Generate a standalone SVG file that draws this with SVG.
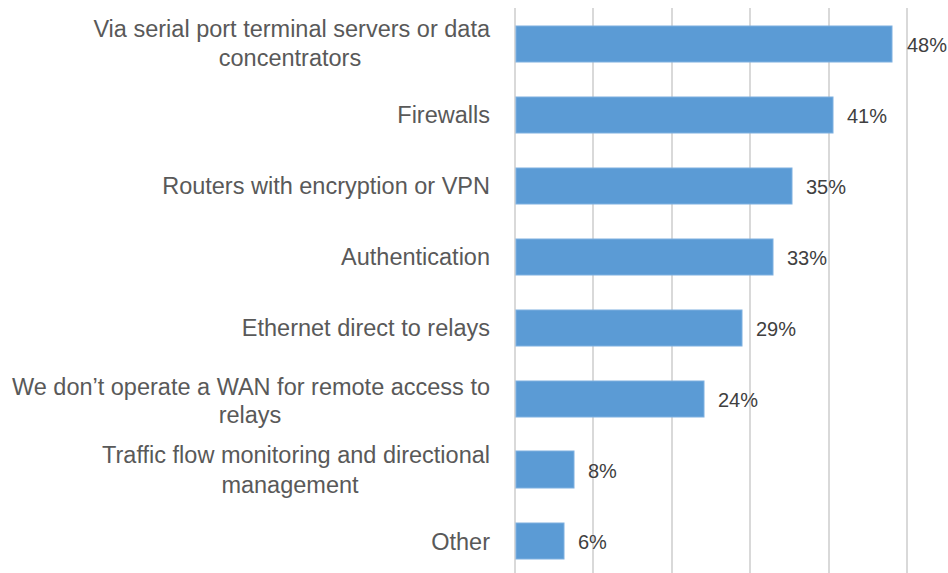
<svg xmlns="http://www.w3.org/2000/svg" width="948" height="573" viewBox="0 0 948 573">
<style>
.grid{stroke:#d9d9d9;stroke-width:2}
.bar{fill:#5b9bd5;stroke:#7eb0e0;stroke-width:1}
.cat{font-family:"Liberation Sans",Arial,sans-serif;font-size:23.5px;fill:#595959;text-anchor:end}
.cat2{font-family:"Liberation Sans",Arial,sans-serif;font-size:23.5px;fill:#595959;text-anchor:middle}
.val{font-family:"Liberation Sans",Arial,sans-serif;font-size:20px;fill:#404040}
</style>
<rect width="948" height="573" fill="#fff"/>
<g id="gridlines">
<line class="grid" x1="515" y1="8" x2="515" y2="573"/>
<line class="grid" x1="593" y1="8" x2="593" y2="573"/>
<line class="grid" x1="672" y1="8" x2="672" y2="573"/>
<line class="grid" x1="750" y1="8" x2="750" y2="573"/>
<line class="grid" x1="829" y1="8" x2="829" y2="573"/>
<line class="grid" x1="907" y1="8" x2="907" y2="573"/>
</g>
<g id="bar1">
<rect class="bar" x="516" y="26" width="376" height="36"/>
<text class="cat" x="490" y="37">Via serial port terminal servers or data</text>
<text class="cat2" x="290" y="66">concentrators</text>
<text class="val" x="907" y="52">48%</text>
</g>
<g id="bar2">
<rect class="bar" x="516" y="97" width="317" height="36"/>
<text class="cat" x="490" y="123">Firewalls</text>
<text class="val" x="847" y="123">41%</text>
</g>
<g id="bar3">
<rect class="bar" x="516" y="168" width="276" height="36"/>
<text class="cat" x="490" y="194">Routers with encryption or VPN</text>
<text class="val" x="806" y="194">35%</text>
</g>
<g id="bar4">
<rect class="bar" x="516" y="239" width="257" height="36"/>
<text class="cat" x="490" y="265">Authentication</text>
<text class="val" x="787" y="265">33%</text>
</g>
<g id="bar5">
<rect class="bar" x="516" y="310" width="226" height="36"/>
<text class="cat" x="490" y="336">Ethernet direct to relays</text>
<text class="val" x="756" y="336">29%</text>
</g>
<g id="bar6">
<rect class="bar" x="516" y="381" width="188" height="36"/>
<text class="cat" x="490" y="395">We don’t operate a WAN for remote access to</text>
<text class="cat2" x="250" y="423">relays</text>
<text class="val" x="718" y="407">24%</text>
</g>
<g id="bar7">
<rect class="bar" x="516" y="451" width="58" height="37"/>
<text class="cat" x="490" y="463">Traffic flow monitoring and directional</text>
<text class="cat2" x="290" y="493">management</text>
<text class="val" x="588" y="478">8%</text>
</g>
<g id="bar8">
<rect class="bar" x="516" y="523" width="48" height="36"/>
<text class="cat" x="490" y="550">Other</text>
<text class="val" x="578" y="549">6%</text>
</g>
</svg>
